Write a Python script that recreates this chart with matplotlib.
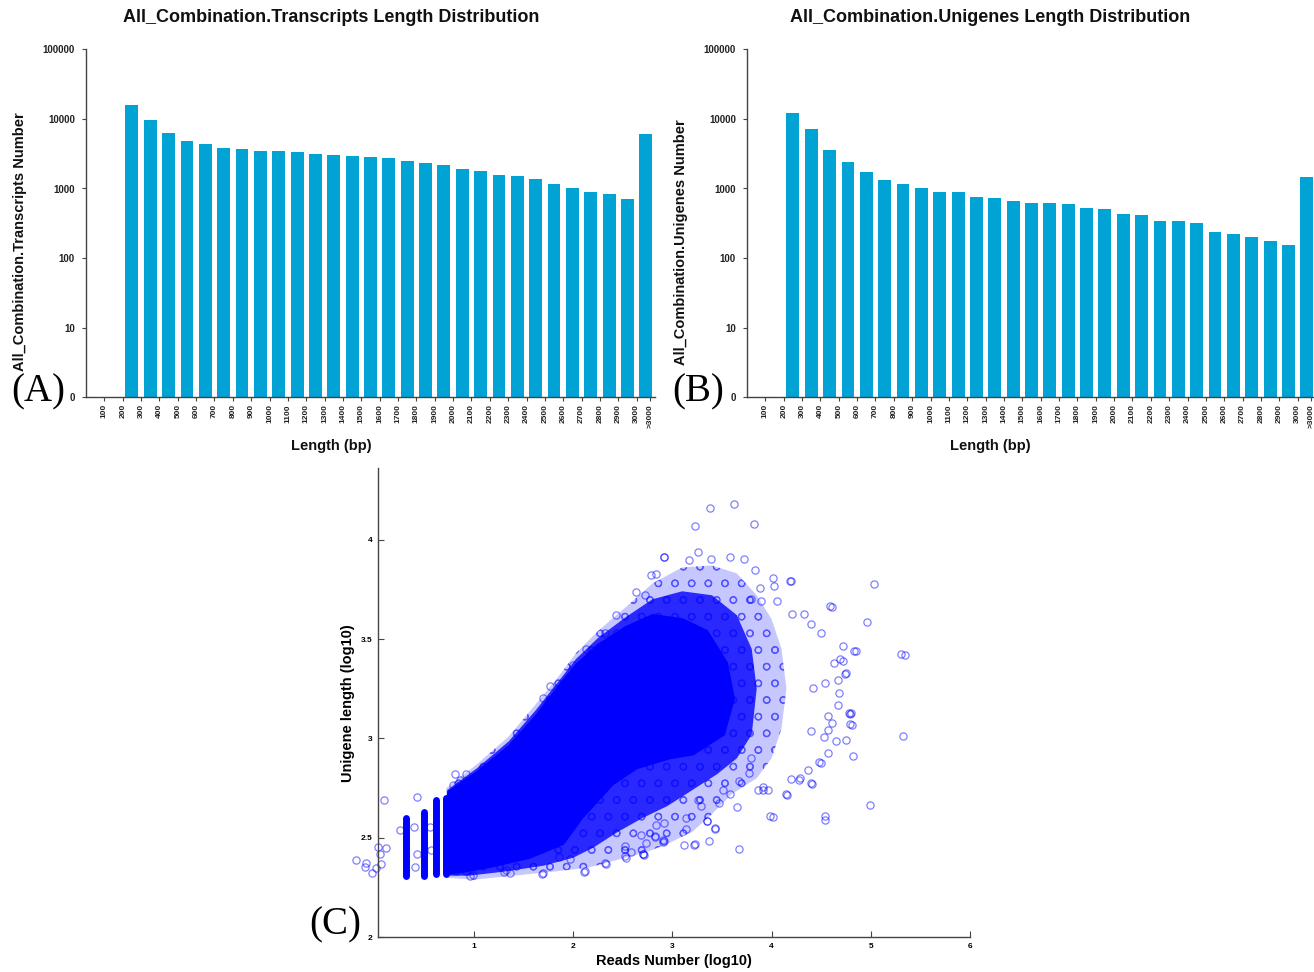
import matplotlib
matplotlib.use("Agg")
import matplotlib.pyplot as plt
from matplotlib import font_manager

installed = {f.name for f in font_manager.fontManager.ttflist}
SANS = "Liberation Sans Narrow" if "Liberation Sans Narrow" in installed else "Liberation Sans"
plt.rcParams["font.family"] = [SANS, "DejaVu Sans"]
plt.rcParams["hatch.linewidth"] = 0.9

# ---- panels A / B : length distribution (bins of 100 bp, last one is >3000) ----
tick_labels = [str(v) for v in range(100, 3100, 100)] + [">3000"]
bin_slots = list(range(1, 31))  # bin 100-200 ... 2900-3000, then >3000
transcripts_counts = [0, 15600, 9800, 6260, 4810, 4360, 3860, 3650, 3420, 3420,
                      3340, 3130, 3030, 2960, 2840, 2740, 2510, 2300, 2155, 1890,
                      1770, 1565, 1500, 1390, 1164, 1000, 894, 828, 718, 6120]
unigenes_counts = [0, 12240, 7060, 3610, 2380, 1750, 1315, 1165, 1000, 904,
                   885, 766, 726, 664, 622, 622, 601, 516, 510, 424,
                   414, 343, 336, 318, 241, 224, 200, 178, 152, 1483]

# ---- panel C : reads number vs unigene length (log10) ----
# saturated part of the cloud (outline)
core_x = [0.74, 0.74, 1.03, 1.35, 1.62, 1.85, 2.03, 2.25, 2.53, 2.80, 3.10, 3.35,
          3.55, 3.62, 3.52, 3.21, 2.97, 2.64, 2.40, 2.09, 1.90, 1.56, 1.22, 0.90]
core_y = [2.32, 2.73, 2.83, 2.96, 3.11, 3.26, 3.37, 3.47, 3.56, 3.62, 3.60, 3.54,
          3.38, 3.20, 3.02, 2.92, 2.90, 2.85, 2.77, 2.60, 2.47, 2.40, 2.36, 2.33]
# dense band of overlapping circles around it
mid_x = [0.73, 0.73, 1.03, 1.35, 1.62, 1.85, 2.03, 2.25, 2.53, 2.80, 3.10, 3.40,
         3.65, 3.80, 3.85, 3.80, 3.65, 3.45, 3.20, 2.95, 2.70, 2.45, 2.20, 2.00,
         1.70, 1.30, 0.95]
mid_y = [2.31, 2.74, 2.85, 2.985, 3.14, 3.285, 3.40, 3.505, 3.61, 3.70, 3.74, 3.72,
         3.62, 3.45, 3.25, 3.02, 2.90, 2.82, 2.74, 2.66, 2.60, 2.53, 2.45, 2.40,
         2.36, 2.33, 2.31]
# thin halo at the outer edge
fringe_x = [0.72, 0.72, 1.03, 1.35, 1.62, 1.85, 2.03, 2.25, 2.53, 2.80, 3.10, 3.40,
            3.65, 3.85, 4.00, 4.10, 4.15, 4.10, 4.00, 3.85, 3.60, 3.40, 3.20, 2.95,
            2.75, 2.45, 2.15, 1.80, 1.40, 1.00]
fringe_y = [2.30, 2.75, 2.87, 3.01, 3.17, 3.31, 3.43, 3.54, 3.66, 3.78, 3.86, 3.87,
            3.83, 3.72, 3.60, 3.45, 3.25, 3.05, 2.90, 2.80, 2.72, 2.62, 2.53, 2.47,
            2.43, 2.39, 2.35, 2.33, 2.31, 2.29]
# columns of genes with 2, 3, 4 and 5 reads
stripe_x = [0.315, 0.50, 0.62, 0.718]
stripe_lo = [2.31, 2.31, 2.32, 2.32]
stripe_hi = [2.60, 2.63, 2.69, 2.70]
# isolated points
outlier_x = [3.384, 3.625, 3.226, 3.827, 2.917, 3.257, 3.578, 3.723, 3.393, 3.166,
             3.830, 4.189, 4.011, 5.035, 4.589, 4.965, 5.300, 4.834, 4.716, 4.686,
             4.633, 4.740, 4.673, 4.498, 4.330, 4.397, 4.206, 3.884, 3.793, 3.891,
             4.050, 4.538, 4.414, 4.776, 5.320, 4.817, 4.992, 4.535, 4.535, 3.985,
             4.146, 4.401, 4.196, 4.287, 3.676, 3.649, 3.860, 3.961, 3.910, 3.585,
             3.676, 3.431, 3.346, 3.367, 3.223, 3.139, 3.139, 3.293, 4.565, 4.481,
             4.364, 4.790, 4.790, 4.673, 4.609, 4.532, 4.565, 4.749, 4.649, 4.400,
             2.920, 2.709, 2.736, 2.820, 2.837, 2.920, 2.685, 3.256, 3.474, 3.507,
             3.776, 3.790, -0.184, -0.091, -0.100, -0.023, 0.017, 0.067, 0.034, 0.117,
             0.050, 0.094, 0.252, 0.426, 0.397, 0.426, 0.403, 0.554, 0.571, 0.806,
             0.916, 0.862, 0.790, 0.990, 0.822, 0.923, 1.326, 1.360, 1.695, 2.115,
             2.326, 2.518, 2.702, 2.585, 2.820, 2.518, 1.965, 1.862, 2.904, 2.913,
             2.786, 2.837, 2.635, 2.434, 2.316, 2.125, 1.997, 1.762, 1.695, 2.720,
             5.340, 4.850, 4.610, 4.800, 4.810, 4.750, 4.720, 4.680, 4.570, 4.500,
             4.410, 4.280, 4.160, 4.010, 3.910, 4.200, 4.020, 3.115, 3.230, 3.430,
             3.350, 2.910, 2.710, 2.530, 2.330, 2.110, 1.690, 1.300, 0.960]
outlier_y = [4.161, 4.181, 4.066, 4.079, 3.911, 3.936, 3.911, 3.901, 3.900, 3.896,
             3.847, 3.792, 3.809, 3.775, 3.664, 3.585, 3.424, 3.441, 3.464, 3.397,
             3.377, 3.326, 3.293, 3.528, 3.624, 3.573, 3.627, 3.756, 3.701, 3.691,
             3.691, 3.279, 3.254, 3.129, 3.014, 2.910, 2.663, 2.608, 2.591, 2.612,
             2.720, 2.774, 2.796, 2.801, 2.443, 2.655, 2.739, 2.742, 2.755, 2.720,
             2.787, 2.549, 2.585, 2.485, 2.463, 2.544, 2.600, 2.658, 2.927, 2.881,
             2.839, 3.074, 3.125, 3.167, 3.078, 3.007, 3.115, 2.991, 2.986, 3.036,
             2.482, 2.418, 2.474, 2.504, 2.563, 2.575, 2.515, 2.692, 2.675, 2.742,
             2.826, 2.901, 2.389, 2.376, 2.353, 2.322, 2.347, 2.367, 2.456, 2.447,
             2.420, 2.692, 2.541, 2.708, 2.555, 2.421, 2.354, 2.555, 2.438, 2.823,
             2.823, 2.793, 2.768, 2.314, 2.331, 2.331, 2.339, 2.322, 2.322, 2.331,
             2.376, 2.409, 2.419, 2.431, 2.507, 2.458, 2.393, 2.406, 2.490, 3.912,
             3.822, 3.825, 3.737, 3.623, 3.531, 3.450, 3.371, 3.262, 3.203, 3.723,
             3.420, 3.440, 3.660, 3.126, 3.070, 3.330, 3.390, 3.227, 3.040, 2.877,
             2.773, 2.790, 2.714, 2.605, 2.740, 3.790, 3.765, 2.462, 2.467, 2.546,
             2.585, 2.479, 2.412, 2.400, 2.370, 2.328, 2.320, 2.330, 2.310]

BAR_COLOR = "#00A3D4"
SCAT_COLOR = "#0000FF"
W, H = 1314, 972

fig = plt.figure(figsize=(W / 100, H / 100), dpi=100)


def rect(l, t, r, b):
    return [l / W, 1 - b / H, (r - l) / W, (b - t) / H]


def length_panel(box, counts, ylabel, title, cx, ylab_x, letter, letter_x):
    ax = fig.add_axes(box)
    xs = [s + 0.5 for s in bin_slots]
    ax.bar(xs, counts, width=0.7, color=BAR_COLOR, linewidth=0)
    ax.set_yscale("log")
    ax.set_ylim(1, 100000)
    ax.set_xlim(0, 31)
    ax.set_yticks([1, 10, 100, 1000, 10000, 100000])
    ax.set_yticklabels(["0", "10", "100", "1000", "10000", "100000"])
    ax.minorticks_off()
    ax.set_xticks(list(range(1, 31)) + [30.75])
    ax.set_xticklabels(tick_labels, rotation=90)
    for s in ["top", "right"]:
        ax.spines[s].set_visible(False)
    for s in ["left", "bottom"]:
        ax.spines[s].set_color("#444444")
        ax.spines[s].set_linewidth(1.0)
    ax.tick_params(axis="both", length=3, width=0.8, color="#444444", pad=2)
    ax.tick_params(axis="x", labelsize=6)
    ax.tick_params(axis="y", labelsize=7, pad=5)
    for lab in ax.get_xticklabels() + ax.get_yticklabels():
        lab.set_fontweight("bold")
        lab.set_color("#222222")
    fig.text(ylab_x / W, 1 - 242 / H, ylabel, rotation=90, ha="center", va="center",
             fontsize=10.5, fontweight="bold", color="#111111")
    fig.text(cx / W, 1 - 17 / H, title, ha="center", va="center",
             fontsize=13, fontweight="bold", color="#111111")
    fig.text(cx / W, 1 - 446 / H, "Length (bp)", ha="center", va="center",
             fontsize=10.5, fontweight="bold", color="#111111")
    fig.text(letter_x / W, 1 - 392 / H, letter, ha="center", va="center",
             fontsize=28, family="Liberation Serif")
    return ax


length_panel(rect(86, 49.3, 655, 397.3), transcripts_counts,
             "All_Combination.Transcripts Number",
             "All_Combination.Transcripts Length Distribution", 331, 20, "(A)", 38)
length_panel(rect(747, 49.3, 1316, 397.3), unigenes_counts,
             "All_Combination.Unigenes Number",
             "All_Combination.Unigenes Length Distribution", 990, 681, "(B)", 698)

# ---- panel C ----
axc = fig.add_axes(rect(377.7, 468, 970, 937.3))
axc.fill(fringe_x, fringe_y, facecolor=(0, 0, 1, 0.22), edgecolor=(0, 0, 1, 0.5),
         linewidth=0, hatch="o")
axc.fill(mid_x, mid_y, facecolor=(0, 0, 1, 0.8), edgecolor="none", linewidth=0)
axc.fill(core_x, core_y, facecolor=SCAT_COLOR, edgecolor=SCAT_COLOR, linewidth=1.5)
axc.vlines(stripe_x, stripe_lo, stripe_hi, color=SCAT_COLOR, linewidth=5,
           capstyle="round")
axc.plot(outlier_x, outlier_y, linestyle="none", marker="o", markersize=5.2,
         markerfacecolor="none", markeredgecolor=(0, 0, 1, 0.5),
         markeredgewidth=0.9, clip_on=False)
axc.set_xlim(0.03, 6)
axc.set_ylim(2, 4.36)
axc.set_xticks([1, 2, 3, 4, 5, 6])
axc.set_yticks([2, 2.5, 3, 3.5, 4])
axc.set_yticklabels(["2", "2.5", "3", "3.5", "4"])
for s in ["top", "right"]:
    axc.spines[s].set_visible(False)
for s in ["left", "bottom"]:
    axc.spines[s].set_color("#444444")
    axc.spines[s].set_linewidth(1.0)
axc.tick_params(axis="both", direction="in", length=4, width=0.8,
                color="#444444", labelsize=6, pad=4)
for lab in axc.get_xticklabels() + axc.get_yticklabels():
    lab.set_fontweight("bold")
axc.set_xlabel("Reads Number (log10)", fontsize=10.5, fontweight="bold", labelpad=3)
axc.set_ylabel("Unigene length (log10)", fontsize=10.5, fontweight="bold", labelpad=4)
fig.text(335 / W, 1 - 925 / H, "(C)", ha="center", va="center",
         fontsize=28, family="Liberation Serif")

fig.savefig("out.png", dpi=100)
